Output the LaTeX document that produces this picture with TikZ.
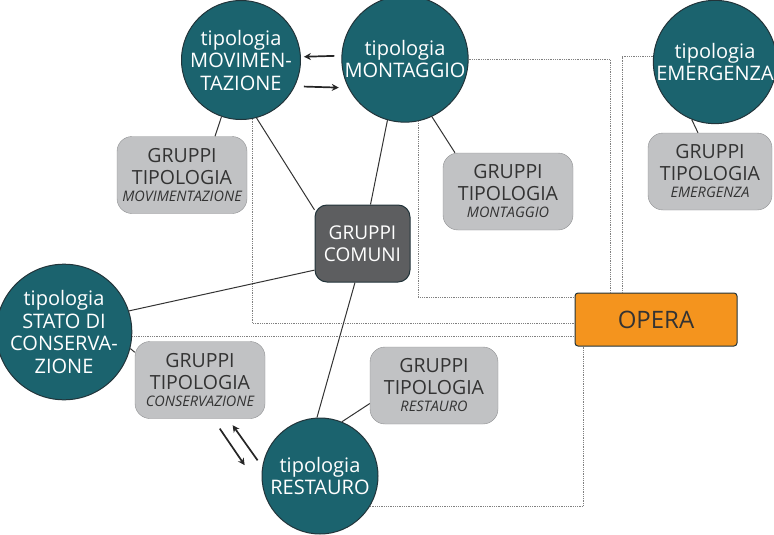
\documentclass[tikz,border=0pt]{standalone}
\usepackage{fontspec}
\setmainfont{Open Sans}
\usetikzlibrary{arrows.meta}
\definecolor{petrolio}{HTML}{1B636E}
\definecolor{bordo}{HTML}{22343A}
\definecolor{grigio}{HTML}{C1C2C4}
\definecolor{grigiobordo}{HTML}{8E8F91}
\definecolor{scuro}{HTML}{5D5E60}
\definecolor{arancio}{HTML}{F4941E}
\definecolor{testo}{HTML}{333333}
\newcommand{\sotto}[1]{{\fontsize{14.5}{16}\selectfont\itshape #1}}
\begin{document}
\begin{tikzpicture}[x=1pt,y=-1pt,
    tipo/.style={circle,draw=bordo,fill=petrolio,line width=1pt,text=white,
      align=center,inner sep=0pt,minimum size=119pt,
      font=\fontsize{20}{22.5}\selectfont},
    gruppo/.style={rectangle,rounded corners=15pt,draw=grigiobordo,fill=grigio,
      text=testo,align=center,inner sep=0pt,minimum width=130pt,minimum height=77pt,
      font=\fontsize{19.5}{22}\selectfont},
    comuni/.style={rectangle,rounded corners=12pt,draw=bordo,fill=scuro,
      text=white,align=center,inner sep=0pt,minimum width=95pt,minimum height=77pt,
      line width=1pt,font=\fontsize{19}{22}\selectfont},
    opera/.style={rectangle,rounded corners=3pt,draw=bordo,fill=arancio,
      text=testo,inner sep=0pt,minimum width=162pt,minimum height=53pt,
      line width=1pt,font=\fontsize{24}{28}\selectfont},
    legame/.style={draw=testo,line width=1pt},
    rimando/.style={draw=gray,densely dotted,line width=0.8pt},
    verso/.style={draw=black!85,line width=1.7pt,-{Stealth[length=7pt,width=7pt]}}]
  \useasboundingbox (0,0) rectangle (774,535);
  \draw
    (241,60) node[tipo] (mov){tipologia\\MOVIMEN-\\TAZIONE}
    (405,59) node[tipo] (mon){tipologia\\MONTAGGIO}
    (715,62) node[tipo] (eme){tipologia\\EMERGENZA}
    (64,332) node[tipo] (sta){tipologia\\STATO DI\\CONSERVA-\\ZIONE}
    (320,476) node[tipo,minimum size=116pt] (res){tipologia\\RESTAURO}
    (182,175) node[gruppo] (gmov){GRUPPI\\TIPOLOGIA\\[-5pt]\sotto{MOVIMENTAZIONE}}
    (508,191.5) node[gruppo] (gmon){GRUPPI\\TIPOLOGIA\\[-5pt]\sotto{MONTAGGIO}}
    (710,171.5) node[gruppo,minimum width=124pt] (geme){GRUPPI\\TIPOLOGIA\\[-5pt]\sotto{EMERGENZA}}
    (200,380) node[gruppo] (gcon){GRUPPI\\TIPOLOGIA\\[-5pt]\sotto{CONSERVAZIONE}}
    (434,385.5) node[gruppo,minimum width=128pt] (gres){GRUPPI\\TIPOLOGIA\\[-5pt]\sotto{RESTAURO}}
    (362.5,243.5) node[comuni] (com){GRUPPI\\COMUNI}
    (656,319.5) node[opera] (op){OPERA};
  \begin{scope}[rimando]
    \draw (mon.east) -| ([xshift=-46pt]op.north);
    \draw (eme.175) -| ([xshift=-34pt]op.north);
    \draw (mon.-78) |- ([yshift=-5pt]op.north west);
    \draw (mov.-79) |- ([yshift=-4pt]op.west);
    \draw (sta.-4) -- (sta.-4 -| op.west);
    \draw ([xshift=9pt]op.south west) |- (res.-31);
  \end{scope}
  \begin{scope}[legame]
    \draw (mov.-109) to ([xshift=33pt]gmov.north);
    \draw (mov.-75) to (com.145);
    \draw (mon.-106) to ([xshift=8pt]com.north);
    \draw (mon.-65) to ([xshift=-53pt]gmon.north);
    \draw (eme.-112) to ([xshift=-12pt]geme.north);
    \draw (com.209) to (sta.18);
    \draw ([xshift=-7.5pt]com.south) to (res.93);
    \draw (sta.-14) to ([yshift=-11pt]gcon.north west);
    \draw (res.68) to ([yshift=-18pt]gres.west);
  \end{scope}
  \begin{scope}[verso]
    \draw[shorten <=7pt,shorten >=3pt] (mon.177) to (mov.3);
    \draw[shorten <=9pt,shorten >=9.5pt] (mov.-26) to (mon.207);
    \draw[shorten <=8pt,shorten >=8pt] (res.171) to ([xshift=28pt]gcon.south);
    \draw[shorten <=12pt,shorten >=35pt] ([xshift=13pt]gcon.south) to (res.198);
  \end{scope}
\end{tikzpicture}
\end{document}
